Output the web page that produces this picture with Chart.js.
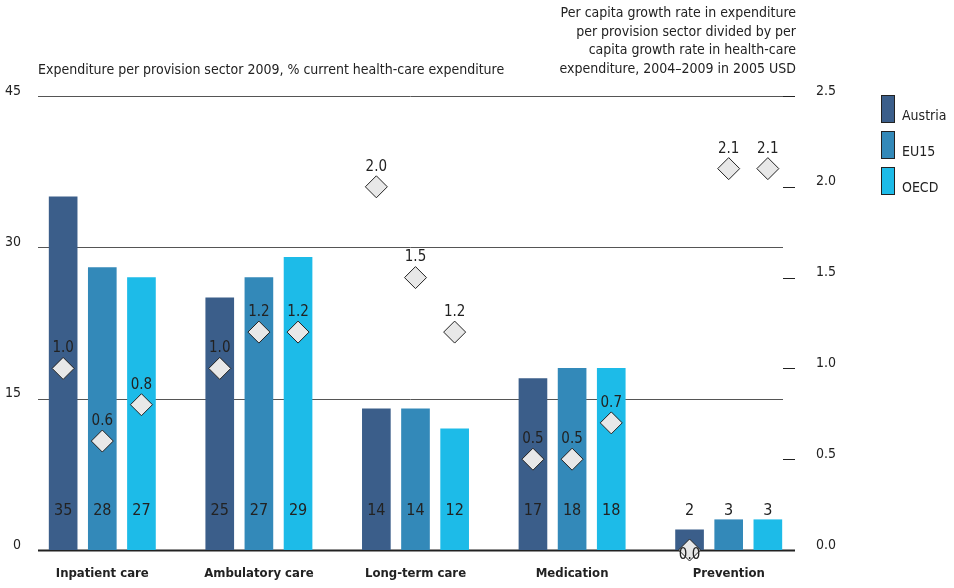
<!DOCTYPE html>
<html>
<head>
<meta charset="utf-8">
<script src="https://cdn.jsdelivr.net/npm/chart.js@4.4.1/dist/chart.umd.min.js"></script>
<style>
  html, body { margin: 0; padding: 0; background: #fff; }
  #wrap { width: 954px; height: 588px; position: relative; }
</style>
</head>
<body>
<div id="wrap"><canvas id="chart"></canvas></div>
<script>
const categories = ["Inpatient care", "Ambulatory care", "Long-term care", "Medication", "Prevention"];
const seriesNames = ["Austria", "EU15", "OECD"];

// share of current health-care expenditure, 2009 (%)
const austriaShare = [35, 25, 14, 17, 2];
const eu15Share = [28, 27, 14, 18, 3];
const oecdShare = [27, 29, 12, 18, 3];

// growth ratio per sector, 2004-2009
const austriaRatio = [1.0, 1.0, 2.0, 0.5, 0.0];
const eu15Ratio = [0.6, 1.2, 1.5, 0.5, 2.1];
const oecdRatio = [0.8, 1.2, 1.2, 0.7, 2.1];

const leftTicks = [0, 15, 30, 45];
const rightTicks = [0, 0.5, 1.0, 1.5, 2.0, 2.5];

const leftTitle = "Expenditure per provision sector 2009, % current health-care expenditure";
const rightTitle = [
    "Per capita growth rate in expenditure",
    "per provision sector divided by per",
    "capita growth rate in health-care",
    "expenditure, 2004\u20132009 in 2005 USD"
];

const colors = ["#3b5e8a", "#3389b9", "#1dbbe8"];
const FONT = "'Liberation Sans Narrow', 'Arial Narrow', 'DejaVu Sans Condensed', sans-serif";
const TEXT = "#222";
const GROUP_WIDTH = 0.75;   // share of a category taken by one group of bars

Chart.defaults.font.family = FONT;
Chart.defaults.color = TEXT;

const shares = [austriaShare, eu15Share, oecdShare];
const ratios = [austriaRatio, eu15Ratio, oecdRatio];

function slot(s) {
    return (s - 1) * GROUP_WIDTH / seriesNames.length;
}

var datasets = [];
for (var s = 0; s < seriesNames.length; s++) {
    var off = slot(s);
    datasets.push({
        type: 'bar',
        label: seriesNames[s],
        data: shares[s].map(function (v, i) { return { x: i + off, y: v }; }),
        backgroundColor: colors[s],
        xAxisID: 'xv',
        yAxisID: 'y',
        grouped: false,
        barThickness: 28,
        order: 2
    });
}
for (var s = 0; s < seriesNames.length; s++) {
    var off = slot(s);
    datasets.push({
        type: 'line',
        label: seriesNames[s] + ' ratio',
        data: ratios[s].map(function (v, i) { return { x: i + off, y: v }; }),
        xAxisID: 'xv',
        yAxisID: 'y2',
        showLine: false,
        pointStyle: 'rectRot',
        pointRadius: 11,
        pointBackgroundColor: '#e8e8e8',
        pointBorderColor: '#222',
        pointBorderWidth: 1,
        clip: false,
        order: 1
    });
}

function fmt(v) { return v.toFixed(1); }

const decor = {
    id: 'decor',
    beforeDatasetsDraw(chart) {
        const ctx = chart.ctx, a = chart.chartArea;
        const y = chart.scales.y, y2 = chart.scales.y2;
        const x0 = a.left + 14, x1 = a.right - 24, xt = a.right - 12;
        ctx.save();
        leftTicks.forEach(function (t) {
            const py = Math.round(y.getPixelForValue(t)) + 0.5;
            ctx.strokeStyle = t === 0 ? '#222' : '#555';
            ctx.lineWidth = t === 0 ? 2 : 1;
            ctx.beginPath();
            ctx.moveTo(x0, py);
            ctx.lineTo(t === 0 ? xt : x1, py);
            ctx.stroke();
        });
        ctx.strokeStyle = '#222';
        ctx.lineWidth = 1;
        rightTicks.forEach(function (t) {
            const py = Math.round(y2.getPixelForValue(t)) + 0.5;
            ctx.beginPath();
            ctx.moveTo(x1, py);
            ctx.lineTo(xt, py);
            ctx.stroke();
        });
        ctx.restore();
    },
    afterDatasetsDraw(chart) {
        const ctx = chart.ctx;
        const base = chart.scales.y.getPixelForValue(0);
        ctx.save();
        ctx.fillStyle = TEXT;
        ctx.textAlign = 'center';
        ctx.textBaseline = 'middle';
        ctx.font = "16px " + FONT;
        for (var s = 0; s < seriesNames.length; s++) {
            chart.getDatasetMeta(s).data.forEach(function (bar, i) {
                ctx.fillText(String(shares[s][i]), bar.x, base - 39);
            });
        }
        ctx.font = "15px " + FONT;
        for (var s = 0; s < seriesNames.length; s++) {
            chart.getDatasetMeta(seriesNames.length + s).data.forEach(function (pt, i) {
                const v = ratios[s][i];
                ctx.fillText(fmt(v), pt.x, v === 0 ? pt.y + 5 : pt.y - 20);
            });
        }
        ctx.restore();
    },
    afterDraw(chart) {
        const ctx = chart.ctx, a = chart.chartArea;
        ctx.save();
        ctx.fillStyle = TEXT;
        ctx.font = "14px " + FONT;
        ctx.textBaseline = 'alphabetic';
        ctx.textAlign = 'left';
        ctx.fillText(leftTitle, a.left + 14, 74);
        ctx.textAlign = 'right';
        rightTitle.forEach(function (line, i) {
            ctx.fillText(line, a.right - 11, 17 + i * 18.5);
        });
        // legend
        ctx.textAlign = 'left';
        seriesNames.forEach(function (name, i) {
            const top = 95 + i * 36;
            ctx.fillStyle = colors[i];
            ctx.fillRect(881, top, 14, 28);
            ctx.strokeStyle = '#222';
            ctx.lineWidth = 1;
            ctx.strokeRect(881.5, top + 0.5, 13, 27);
            ctx.fillStyle = TEXT;
            ctx.fillText(name, 902, top + 25);
        });
        ctx.restore();
    }
};

new Chart(document.getElementById('chart'), {
    type: 'bar',
    data: { labels: categories, datasets: datasets },
    options: {
        animation: false,
        responsive: true,
        maintainAspectRatio: false,
        devicePixelRatio: 1,
        layout: { padding: { top: 96, left: 0, right: 0, bottom: 0 } },
        plugins: { legend: { display: false }, tooltip: { enabled: false } },
        scales: {
            x: {
                type: 'category',
                offset: true,
                grid: { display: false, drawTicks: false },
                border: { display: false },
                ticks: { font: { size: 13, weight: 'bold' }, color: TEXT, padding: 16, maxRotation: 0 },
                afterFit: function (sc) { sc.height = 38; }
            },
            xv: {
                type: 'linear',
                min: -0.5, max: 4.5,
                offset: false,
                display: false
            },
            y: {
                position: 'left',
                min: 0, max: 45,
                afterBuildTicks: function (sc) { sc.ticks = leftTicks.map(function (v) { return { value: v }; }); },
                grid: { display: false, drawTicks: false },
                border: { display: false },
                ticks: { font: { size: 14 }, color: TEXT, padding: 3, labelOffset: -5 },
                afterFit: function (sc) { sc.width = 24; }
            },
            y2: {
                position: 'right',
                min: 0, max: 2.5,
                afterBuildTicks: function (sc) { sc.ticks = rightTicks.map(function (v) { return { value: v }; }); },
                grid: { display: false, drawTicks: false },
                border: { display: false },
                ticks: { font: { size: 14 }, color: TEXT, padding: 9, labelOffset: -5, callback: function (v) { return fmt(v); } },
                afterFit: function (sc) { sc.width = 147; }
            }
        }
    },
    plugins: [decor]
});
</script>
</body>
</html>
